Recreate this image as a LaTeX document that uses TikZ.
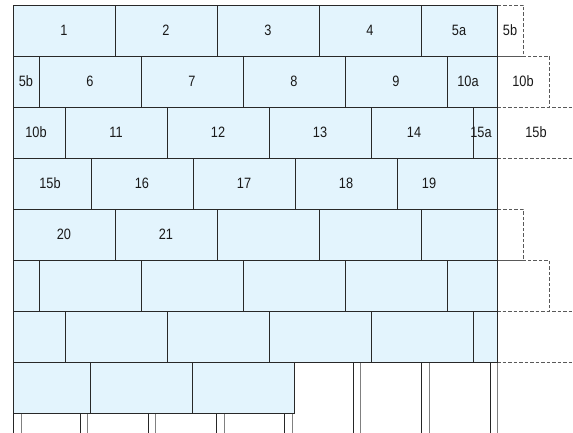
\documentclass[tikz,border=0pt]{standalone}
\usepackage{fontspec}
\setmainfont[FakeStretch=0.85]{Liberation Sans}
\definecolor{brickblue}{RGB}{227,244,253}
\definecolor{edge}{RGB}{40,40,40}
\begin{document}
\begin{tikzpicture}[x=1pt,y=-1pt,
  lbl/.style={font=\fontsize{15}{17}\selectfont, text=black!90, text height=10.7pt, text depth=0pt, inner sep=0pt},
  brick/.style={rectangle, draw=edge, fill=brickblue, line width=0.8pt, inner sep=0pt, outer sep=0pt, lbl},
  ghost/.style={rectangle, draw=black!65, dash pattern=on 3.5pt off 2pt, line width=0.8pt, inner sep=0pt, outer sep=0pt, lbl},
  ghostline/.style={draw=black!65, dash pattern=on 3.5pt off 2pt, line width=0.8pt},
  postA/.style={draw=black!85, line width=0.9pt},
  postB/.style={draw=black!50, line width=0.9pt}]
\useasboundingbox (0,0) rectangle (573,433);
\newcommand\brk[7][]{%
  \pgfmathsetmacro\bw{#5-#3}\pgfmathsetmacro\bh{#6-#4}%
  \pgfmathsetmacro\bx{(#3+#5)/2}\pgfmathsetmacro\by{(#4+#6)/2}%
  \node[brick,minimum width=\bw pt,minimum height=\bh pt,#1] (#2) at (\bx,\by) {#7};}
\newcommand\gbx[7][]{%
  \pgfmathsetmacro\bw{#5-#3}\pgfmathsetmacro\bh{#6-#4}%
  \pgfmathsetmacro\bx{(#3+#5)/2}\pgfmathsetmacro\by{(#4+#6)/2}%
  \node[ghost,minimum width=\bw pt,minimum height=\bh pt,#1] (#2) at (\bx,\by) {#7};}
% ghost (dashed) continuation bricks
\gbx{g5b}{497}{5}{523}{56}{5b}
\gbx{g10b}{497}{56}{549}{107}{10b}
\gbx{g25}{497}{209}{523}{260}{}
\gbx{g30}{497}{260}{549}{311}{}
\coordinate (e1a) at (497,107); \coordinate (e1b) at (573,107);
\coordinate (e2a) at (497,158); \coordinate (e2b) at (573,158);
\coordinate (e3a) at (497,311); \coordinate (e3b) at (573,311);
\coordinate (e4a) at (497,362); \coordinate (e4b) at (573,362);
\draw[ghostline] (e1a) -- (e1b);
\draw[ghostline] (e2a) -- (e2b);
\draw[ghostline] (e3a) -- (e3b);
\draw[ghostline] (e4a) -- (e4b);
\node[lbl] (t15b) at (536,132.5) {15b};
% posts
\foreach \xa/\xb/\yt [count=\i] in {13/21/413, 80/87/413, 148/155/413, 216/224/413, 284/292/413, 353/360/362, 421/429/362, 490/497/362}{
  \coordinate (pa\i) at (\xa,\yt); \coordinate (pab\i) at (\xa,433);
  \coordinate (pb\i) at (\xb,\yt); \coordinate (pbb\i) at (\xb,433);
  \draw[postA] (pa\i) -- (pab\i);
  \draw[postB] (pb\i) -- (pbb\i);
}
% row 1
\brk{b1}{13}{5}{115}{56}{1}
\brk{b2}{115}{5}{217}{56}{2}
\brk{b3}{217}{5}{319}{56}{3}
\brk{b4}{319}{5}{421}{56}{4}
\brk{b5a}{421}{5}{497}{56}{5a}
% row 2
\brk{b5b}{13}{56}{39}{107}{5b}
\brk{b6}{39}{56}{141}{107}{6}
\brk{b7}{141}{56}{243}{107}{7}
\brk{b8}{243}{56}{345}{107}{8}
\brk{b9}{345}{56}{447}{107}{9}
\brk[label={[lbl,xshift=-4pt]center:10a}]{b10a}{447}{56}{497}{107}{}
% row 3
\brk[label={[lbl,xshift=-3pt]center:10b}]{b10b}{13}{107}{65}{158}{}
\brk{b11}{65}{107}{167}{158}{11}
\brk{b12}{167}{107}{269}{158}{12}
\brk{b13}{269}{107}{371}{158}{13}
\brk[label={[lbl,xshift=-8pt]center:14}]{b14}{371}{107}{473}{158}{}
\brk[label={[lbl,xshift=-4pt]center:15a}]{b15a}{473}{107}{497}{158}{}
% row 4
\brk[label={[lbl,xshift=-2pt]center:15b}]{b15b}{13}{158}{91}{209}{}
\brk{b16}{91}{158}{193}{209}{16}
\brk{b17}{193}{158}{295}{209}{17}
\brk{b18}{295}{158}{397}{209}{18}
\brk[label={[lbl,xshift=-18pt]center:19}]{b19}{397}{158}{497}{209}{}
% row 5
\brk{b20}{13}{209}{115}{260}{20}
\brk{b21}{115}{209}{217}{260}{21}
\brk{b22}{217}{209}{319}{260}{}
\brk{b23}{319}{209}{421}{260}{}
\brk{b24}{421}{209}{497}{260}{}
% row 6
\brk{b26}{13}{260}{39}{311}{}
\brk{b27}{39}{260}{141}{311}{}
\brk{b28}{141}{260}{243}{311}{}
\brk{b29}{243}{260}{345}{311}{}
\brk{b30}{345}{260}{447}{311}{}
\brk{b31}{447}{260}{497}{311}{}
% row 7
\brk{b32}{13}{311}{65}{362}{}
\brk{b33}{65}{311}{167}{362}{}
\brk{b34}{167}{311}{269}{362}{}
\brk{b35}{269}{311}{371}{362}{}
\brk{b36}{371}{311}{473}{362}{}
\brk{b37}{473}{311}{497}{362}{}
% row 8
\brk{b38}{13}{362}{90.5}{413}{}
\brk{b39}{90.5}{362}{192.5}{413}{}
\brk{b40}{192.5}{362}{294}{413}{}
\end{tikzpicture}
\end{document}
